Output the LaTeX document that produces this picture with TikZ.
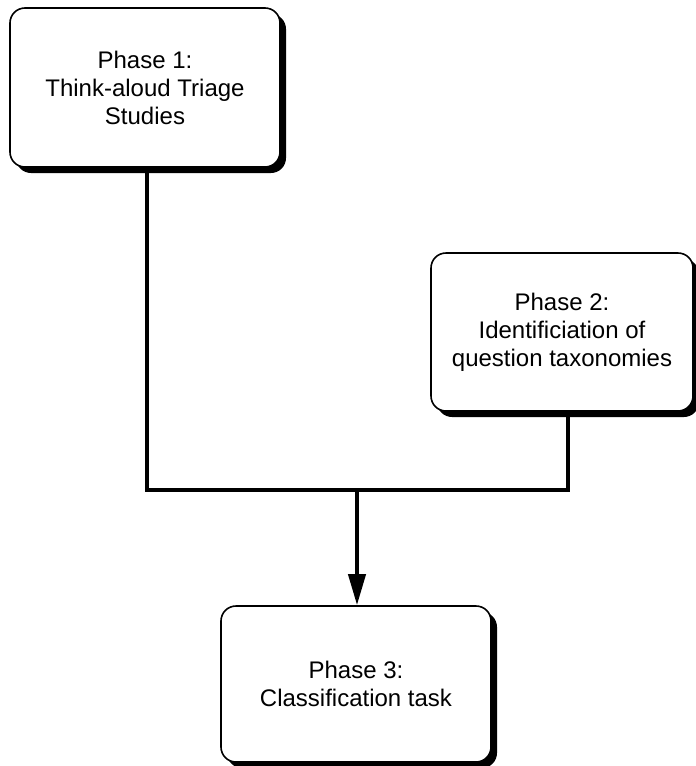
\documentclass[tikz,border=0pt]{standalone}
\usepackage{fontspec}
\setmainfont{Liberation Sans}
\usetikzlibrary{arrows.meta,shadows}
\begin{document}
\begin{tikzpicture}[x=1pt,y=-1pt,
  phasebox/.style={draw=black, line width=1.6pt, fill=white, rounded corners=15pt,
    align=center, inner sep=0pt,
    font=\fontsize{24}{28}\selectfont,
    drop shadow={shadow xshift=6pt, shadow yshift=-6pt, fill=black, opacity=1}},
  link/.style={line width=4pt, line join=miter},
  arrowlink/.style={link, -{Triangle[length=31pt,width=17pt]}}]
\useasboundingbox (0,0) rectangle (696,766);
\fill[white] (0,0) rectangle (696,766);

\node[phasebox, minimum width=270pt, minimum height=159pt] (b1) at (145,87.5)
  {Phase 1:\\Think-aloud Triage\\Studies};
\node[phasebox, minimum width=262pt, minimum height=158pt] (b2) at (562,332)
  {Phase 2:\\Identificiation of\\question taxonomies};
\node[phasebox, minimum width=270pt, minimum height=156pt] (b3) at (356,684)
  {Phase 3:\\Classification task};

\coordinate (j) at (357,490);
\coordinate (b1out) at ([xshift=2pt]b1.south);
\coordinate (b2out) at ([xshift=6pt]b2.south);

\draw[link] ([yshift=-4pt]b1out) |- (j);
\draw[link] ([yshift=-4pt]b2out) |- (j);
\draw[arrowlink] (j) -- (b3.north -| j);
\end{tikzpicture}
\end{document}
